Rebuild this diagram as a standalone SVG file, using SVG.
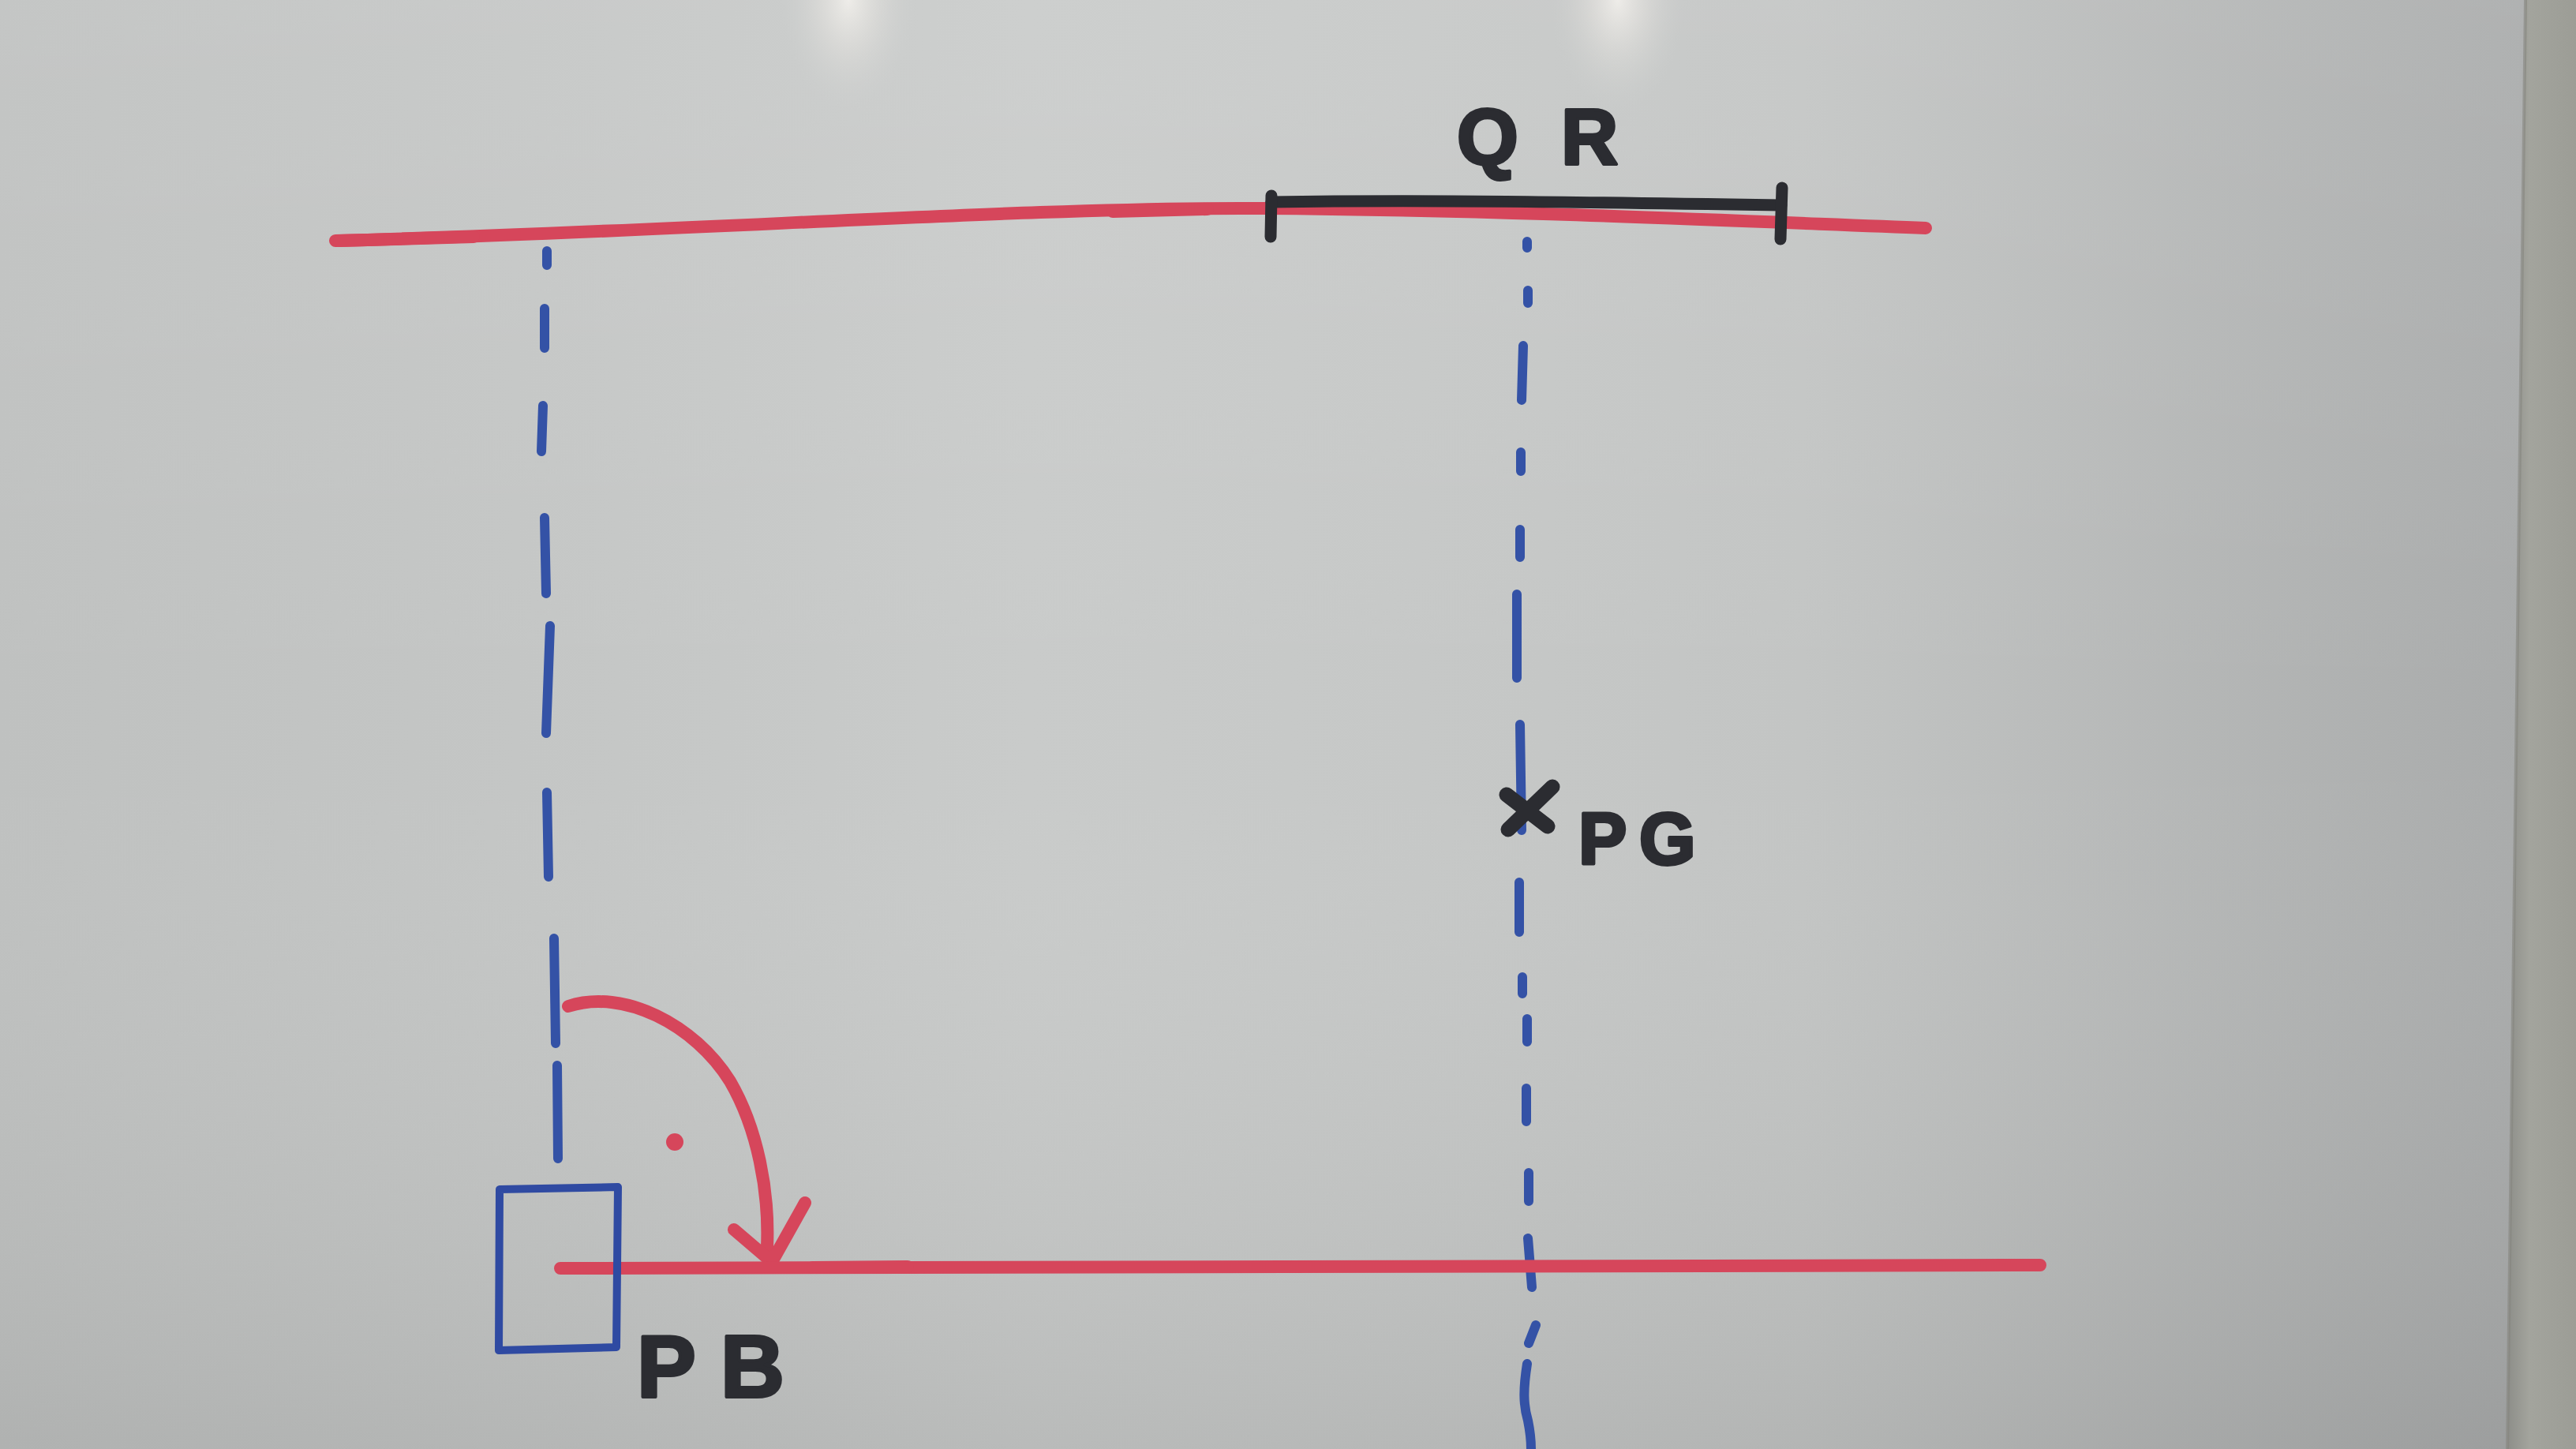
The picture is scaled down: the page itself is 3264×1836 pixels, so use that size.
<svg xmlns="http://www.w3.org/2000/svg" width="3264" height="1836" viewBox="0 0 3264 1836">
  <defs>
    <linearGradient id="boardH" x1="0" y1="0" x2="3264" y2="0" gradientUnits="userSpaceOnUse">
      <stop offset="0" stop-color="#bfc1c0"/>
      <stop offset="0.4" stop-color="#c9cbca"/>
      <stop offset="0.7" stop-color="#c3c5c4"/>
      <stop offset="0.98" stop-color="#a9abab"/>
    </linearGradient>
    <linearGradient id="boardV" x1="0" y1="0" x2="0" y2="1836" gradientUnits="userSpaceOnUse">
      <stop offset="0" stop-color="#ffffff" stop-opacity="0.08"/>
      <stop offset="0.5" stop-color="#ffffff" stop-opacity="0"/>
      <stop offset="1" stop-color="#000000" stop-opacity="0.08"/>
    </linearGradient>
    <radialGradient id="glare" cx="0.5" cy="0.5" r="0.5" fx="0.5" fy="0.5">
      <stop offset="0" stop-color="#f2f0ec" stop-opacity="0.9"/>
      <stop offset="0.45" stop-color="#e6e4e0" stop-opacity="0.45"/>
      <stop offset="1" stop-color="#d0d2d1" stop-opacity="0"/>
    </radialGradient>
    <linearGradient id="frame" x1="3180" y1="0" x2="3264" y2="0" gradientUnits="userSpaceOnUse">
      <stop offset="0" stop-color="#8f908b"/>
      <stop offset="0.3" stop-color="#a3a49d"/>
      <stop offset="1" stop-color="#9c9d96"/>
    </linearGradient>
    <style>
      .red { fill: none; stroke: #d6465b; stroke-width: 16; stroke-linecap: round; stroke-linejoin: round; }
      .blue { fill: none; stroke: #3452a6; stroke-width: 12; stroke-linecap: round; stroke-linejoin: round; }
      .ink { fill: none; stroke: #2b2c31; stroke-linecap: round; stroke-linejoin: round; }
      .lbl { font-family: "Liberation Sans", Arial, sans-serif; font-weight: bold; fill: #2b2c31; stroke: #2b2c31; stroke-width: 4; stroke-linejoin: round; }
    </style>
  </defs>

  <!-- whiteboard background -->
  <g id="board">
    <rect x="0" y="0" width="3264" height="1836" fill="url(#boardH)"/>
    <rect x="0" y="0" width="3264" height="1836" fill="url(#boardV)"/>
    <ellipse cx="1075" cy="0" rx="85" ry="140" fill="url(#glare)"/>
    <ellipse cx="2050" cy="0" rx="85" ry="140" fill="url(#glare)"/>
    <polygon points="3200,0 3264,0 3264,1836 3177,1836" fill="url(#frame)"/>
    <path d="M3200,0 L3177,1836" stroke="#85867f" stroke-width="4" fill="none" opacity="0.6"/>
  </g>

  <!-- top red line -->
  <g id="top-line">
    <path class="red" d="M425,305 C900,292 1300,262 1600,264 C1900,266 2200,280 2440,289"/>
    <path class="red" d="M430,305 L600,300" stroke-width="20"/>
    <path class="red" d="M1410,268 L1530,265" stroke-width="19"/>
  </g>

  <!-- QR segment -->
  <g id="segment-QR">
    <path class="ink" stroke-width="15" d="M1611,256 C1800,253 2000,256 2257,260"/>
    <path class="ink" stroke-width="15" d="M1611,248 L1610,300"/>
    <path class="ink" stroke-width="15" d="M2258,238 L2256,303"/>
  </g>
  <g id="label-QR">
    <text class="lbl" x="1846 1978" y="208" font-size="100">QR</text>
  </g>

  <!-- connectors: dashed projection lines and rotation arrow -->
  <g id="connectors">
    <path id="dashed-left" class="blue" d="M693,318 L693,336 M690,391 L690,441 M688,514 L686,572 M690,656 L692,752 M697,793 L692,929 M693,1004 L695,1111 M702,1189 L704,1322 M706,1350 L707,1468"/>
    <path id="dashed-right" class="blue" d="M1935,306 L1935,314 M1936,368 L1936,384 M1930,438 L1928,507 M1927,573 L1927,597 M1926,671 L1926,706 M1922,753 L1922,859 M1926,918 L1928,1052 M1925,1118 L1925,1181 M1929,1238 L1929,1259 M1935,1291 L1935,1320 M1934,1379 L1934,1421 M1937,1486 L1937,1522 M1936,1569 L1941,1631 M1946,1679 L1937,1702 M1935,1728 C1930,1760 1930,1780 1936,1800 C1939,1815 1940,1828 1940,1836"/>
    <g id="rotation-arrow">
      <path class="red" stroke-width="15" d="M720,1275 C790,1252 880,1298 925,1370 C960,1430 975,1510 972,1580"/>
      <path class="red" stroke-width="15" d="M930,1558 L978,1599 L1020,1524"/>
    </g>
  </g>

  <!-- bottom red line -->
  <g id="bottom-line">
    <path class="red" d="M710,1607 C1300,1606 2000,1604 2585,1603"/>
    <path class="red" d="M1030,1606 L1150,1605" stroke-width="19"/>
  </g>

  <!-- right-angle dot -->
  <g id="dot">
    <circle cx="855" cy="1447" r="11" fill="#d6465b"/>
  </g>

  <!-- PB square -->
  <g id="square-PB">
    <path fill="none" stroke="#2f4aa2" stroke-width="10" stroke-linejoin="round" stroke-linecap="round" d="M633,1507 L783,1504 L781,1707 L632,1711 Z"/>
  </g>
  <g id="label-PB">
    <text class="lbl" x="807 913" y="1770" font-size="112">PB</text>
  </g>

  <!-- PG point -->
  <g id="mark-PG">
    <path class="ink" stroke-width="19" d="M1967,997 L1911,1051 M1909,1007 L1961,1047"/>
  </g>
  <g id="label-PG">
    <text class="lbl" x="2000 2077" y="1095" font-size="92">PG</text>
  </g>
</svg>
